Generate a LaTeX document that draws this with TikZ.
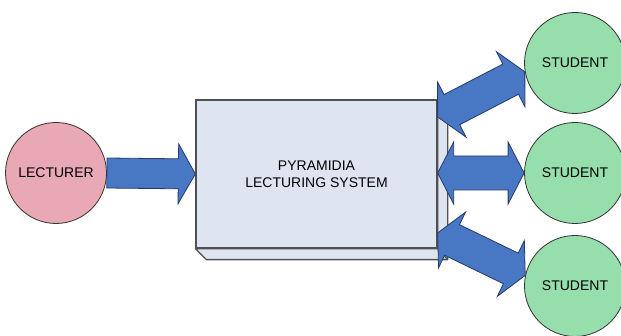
\documentclass[tikz,border=0pt]{standalone}
\usepackage{fontspec}
\setmainfont{Liberation Sans}
\usetikzlibrary{calc}
\definecolor{lectfill}{RGB}{232,168,180}
\definecolor{studfill}{RGB}{150,222,172}
\definecolor{arrfill}{RGB}{72,120,196}
\definecolor{arrline}{RGB}{40,58,105}
\definecolor{boxfill}{RGB}{222,229,240}
\definecolor{boxline}{RGB}{80,80,84}
\tikzset{
 person/.style={circle,draw=black!80,line width=0.8pt,minimum size=101pt,inner sep=0pt,font=\fontsize{14}{17}\selectfont},
 systembox/.style={rectangle,draw=boxline,fill=boxfill,line width=1.3pt,minimum width=241pt,minimum height=148pt,align=center,font=\fontsize{14}{17}\selectfont},
 bigarrow/.style={fill=arrfill,draw=arrline,line width=0.8pt,line join=miter}
}
\newcommand{\onearrow}[2]{%
 \filldraw[bigarrow] ($(#1)!15pt!90:(#2)$) -- ($(#2)!17pt!(#1)!15pt!-90:(#1)$) -- ($(#2)!17pt!(#1)!30pt!-90:(#1)$) -- (#2)
  -- ($(#2)!17pt!(#1)!30pt!90:(#1)$) -- ($(#2)!17pt!(#1)!15pt!90:(#1)$) -- ($(#1)!15pt!-90:(#2)$) -- cycle;}
\newcommand{\twoarrow}[2]{%
 \filldraw[bigarrow] (#1) -- ($(#1)!16pt!(#2)!31pt!90:(#2)$) -- ($(#1)!16pt!(#2)!17pt!90:(#2)$)
  -- ($(#2)!16pt!(#1)!17pt!-90:(#1)$) -- ($(#2)!16pt!(#1)!31pt!-90:(#1)$) -- (#2)
  -- ($(#2)!16pt!(#1)!31pt!90:(#1)$) -- ($(#2)!16pt!(#1)!17pt!90:(#1)$)
  -- ($(#1)!16pt!(#2)!17pt!-90:(#2)$) -- ($(#1)!16pt!(#2)!31pt!-90:(#2)$) -- cycle;}
\begin{document}
\begin{tikzpicture}[x=1pt,y=-1pt]
 \useasboundingbox[fill=white] (0,0) rectangle (621,336);
 \node[person,fill=lectfill] (lecturer) at (56,173) {LECTURER};
 \node[systembox] (system) at (316.5,174) {PYRAMIDIA\\LECTURING SYSTEM};
 \draw[draw=boxline,fill=boxfill,line width=1.3pt,line join=round] (system.south west) -- ++(11,11) -| ([shift={(10,10)}]system.north east) -- (system.north east) -- (system.south east) -- cycle;
 \draw[draw=boxline,line width=1.3pt] (system.south east) -- ++(10,11);
 \node[person,fill=studfill] (student1) at (575,63) {STUDENT};
 \node[person,fill=studfill] (student2) at (575,173) {STUDENT};
 \node[person,fill=studfill] (student3) at (575,286) {STUDENT};
 \coordinate (out1) at ([yshift=57pt]system.east);
 \coordinate (out2) at ([yshift=1pt]system.east);
 \coordinate (out3) at ([yshift=-59pt]system.east);
 \coordinate (in1) at (student1.190);
 \coordinate (in3) at (student3.168);
 \onearrow{lecturer.east}{system.west}
 \twoarrow{out1}{in1}
 \twoarrow{out2}{student2.west}
 \twoarrow{out3}{in3}
\end{tikzpicture}
\end{document}
